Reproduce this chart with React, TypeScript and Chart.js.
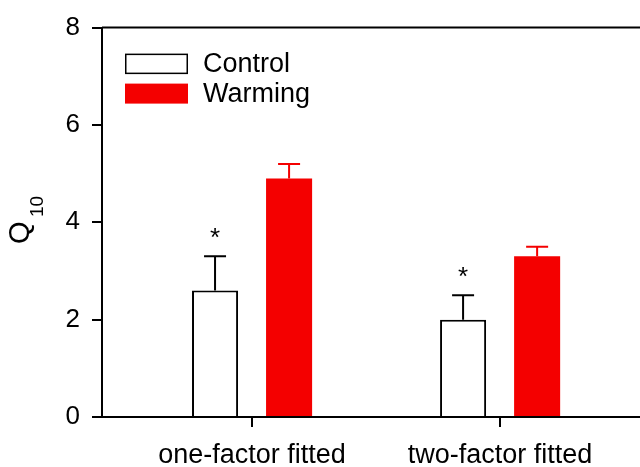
import React, { useEffect, useRef } from "react";
import { Chart, registerables } from "chart.js";

Chart.register(...registerables);

const categories = ["one-factor fitted", "two-factor fitted"];
const categoryPositions = [1, 2];
const controlValues = [2.6, 2.0];
const controlErrors = [0.7, 0.5];
const warmingValues = [4.9, 3.3];
const warmingErrors = [0.3, 0.2];
const controlMarks = ["*", "*"];
const seriesNames = ["Control", "Warming"];
const yMin = 0;
const yMax = 8;
const yStep = 2;

const RED = "rgb(244,0,0)";
const FONT = "Arial, 'Liberation Sans', sans-serif";

const decorPlugin = {
  id: "decor",
  afterDatasetsDraw(chart: any) {
    const ctx = chart.ctx;
    const yScale = chart.scales.y;
    chart.data.datasets.forEach((ds: any, di: number) => {
      const meta = chart.getDatasetMeta(di);
      meta.data.forEach((bar: any, i: number) => {
        const v = ds.data[i].y;
        const top = yScale.getPixelForValue(v + ds.errors[i]);
        ctx.save();
        ctx.strokeStyle = ds.errorColor;
        ctx.lineWidth = 2;
        ctx.beginPath();
        ctx.moveTo(bar.x, bar.y);
        ctx.lineTo(bar.x, top);
        ctx.moveTo(bar.x - 11, top);
        ctx.lineTo(bar.x + 11, top);
        ctx.stroke();
        if (ds.marks) {
          ctx.fillStyle = "#000";
          ctx.font = `26px ${FONT}`;
          ctx.textAlign = "center";
          ctx.textBaseline = "alphabetic";
          ctx.fillText(ds.marks[i], bar.x, top - 10);
        }
        ctx.restore();
      });
    });
  },
  afterDraw(chart: any) {
    const ctx = chart.ctx;
    const area = chart.chartArea;
    ctx.save();
    // top frame line
    ctx.strokeStyle = "#000";
    ctx.lineWidth = 2;
    ctx.beginPath();
    ctx.moveTo(area.left, area.top);
    ctx.lineTo(chart.width, area.top);
    ctx.stroke();

    // legend
    const lx = area.left + 23;
    const ly = area.top + 26;
    ctx.lineWidth = 1.5;
    ctx.fillStyle = "#fff";
    ctx.fillRect(lx, ly, 62, 20);
    ctx.strokeRect(lx + 0.75, ly + 0.75, 61.5, 19);
    ctx.fillStyle = RED;
    ctx.fillRect(lx, ly + 30, 63, 20);
    ctx.fillStyle = "#000";
    ctx.font = `27px ${FONT}`;
    ctx.textAlign = "left";
    ctx.textBaseline = "middle";
    ctx.fillText(seriesNames[0], lx + 78, ly + 11);
    ctx.fillText(seriesNames[1], lx + 78, ly + 41);

    // y title Q10 (rotated)
    ctx.translate(29, 244);
    ctx.rotate(-Math.PI / 2);
    ctx.textBaseline = "alphabetic";
    ctx.font = `29px ${FONT}`;
    ctx.fillText("Q", 0, 0);
    ctx.font = `19px ${FONT}`;
    ctx.fillText("10", 27, 14);
    ctx.restore();
  },
};

export default function App() {
  const ref = useRef<HTMLCanvasElement | null>(null);

  useEffect(() => {
    document.body.style.margin = "0";
    const canvas = ref.current;
    if (!canvas) return;
    const chart = new Chart(canvas, {
      type: "bar",
      data: {
        datasets: [
          {
            label: seriesNames[0],
            data: categoryPositions.map((x, i) => ({ x, y: controlValues[i] })),
            backgroundColor: "#fff",
            borderColor: "#000",
            borderWidth: 2,
            errors: controlErrors,
            errorColor: "#000",
            marks: controlMarks,
          } as any,
          {
            label: seriesNames[1],
            data: categoryPositions.map((x, i) => ({ x, y: warmingValues[i] })),
            backgroundColor: RED,
            borderWidth: 0,
            errors: warmingErrors,
            errorColor: RED,
          } as any,
        ],
      },
      options: {
        responsive: false,
        maintainAspectRatio: false,
        animation: false,
        datasets: {
          bar: {
            categoryPercentage: 0.597,
            barPercentage: 0.622,
          },
        },
        layout: { padding: { top: 26, right: 0, left: 0, bottom: 0 } },
        plugins: {
          legend: { display: false },
          tooltip: { enabled: false },
        },
        scales: {
          x: {
            type: "linear",
            min: 0.395,
            max: 2.564,
            offset: false,
            z: 1,
            border: { display: true, color: "#000", width: 2 },
            grid: {
              display: true,
              offset: false,
              drawOnChartArea: false,
              drawTicks: true,
              tickLength: 10,
              color: "#000",
              lineWidth: 2,
            },
            afterBuildTicks: (scale: any) => {
              scale.ticks = categoryPositions.map((v) => ({ value: v }));
            },
            afterFit: (scale: any) => {
              scale.height = 50;
            },
            ticks: {
              autoSkip: false,
              maxRotation: 0,
              padding: 12,
              color: "#000",
              font: { family: FONT, size: 27 },
              callback: (value: any) => categories[categoryPositions.indexOf(Number(value))] ?? "",
            },
          },
          y: {
            min: yMin,
            max: yMax,
            z: 1,
            border: { display: true, color: "#000", width: 2 },
            grid: {
              display: true,
              drawOnChartArea: false,
              drawTicks: true,
              tickLength: 10,
              color: "#000",
              lineWidth: 2,
            },
            afterFit: (scale: any) => {
              scale.width = 102;
            },
            ticks: {
              stepSize: yStep,
              padding: 12,
              color: "#000",
              font: { family: FONT, size: 26 },
            },
          },
        },
      },
      plugins: [decorPlugin],
    } as any);
    return () => chart.destroy();
  }, []);

  return (
    <div style={{ width: 640, height: 467 }}>
      <canvas ref={ref} width={640} height={467} style={{ display: "block" }} />
    </div>
  );
}
